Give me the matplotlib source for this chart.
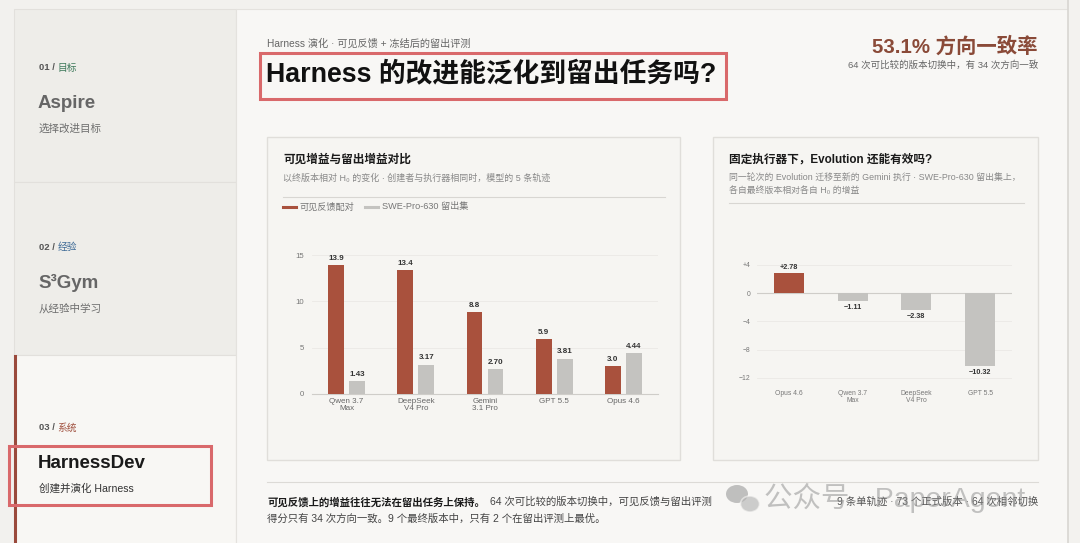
import numpy as np
import matplotlib.pyplot as plt
from matplotlib.patches import Rectangle, Ellipse

plt.rcParams['font.family'] = ['Liberation Sans', 'Noto Sans CJK SC', 'DejaVu Sans']

# data - left chart
models_l = ["Qwen 3.7\nMax", "DeepSeek\nV4 Pro", "Gemini\n3.1 Pro", "GPT 5.5", "Opus 4.6"]
visible_gain = [13.9, 13.4, 8.8, 5.9, 3.0]
heldout_gain = [1.43, 3.17, 2.70, 3.81, 4.44]
visible_lbl = ["13.9", "13.4", "8.8", "5.9", "3.0"]
heldout_lbl = ["1.43", "3.17", "2.70", "3.81", "4.44"]
yticks_l = [0, 5, 10, 15]

# data - right chart
models_r = ["Opus 4.6", "Qwen 3.7\nMax", "DeepSeek\nV4 Pro", "GPT 5.5"]
fixed_gain = [2.78, -1.11, -2.38, -10.32]
fixed_lbl = ["+2.78", "\u22121.11", "\u22122.38", "\u221210.32"]
yticks_r = [4, 0, -4, -8, -12]
yticklbl_r = ["+4", "0", "\u22124", "\u22128", "\u221212"]

RED = "#a9513d"
GRAY = "#c4c3c0"
BROWN = "#8a4a38"

W, H = 1080, 543
fig = plt.figure(figsize=(10.8, 5.43), dpi=100)
fig.patch.set_facecolor("#f2f1ee")

bg = fig.add_axes([0, 0, 1, 1])
bg.set_xlim(0, W)
bg.set_ylim(H, 0)
bg.axis("off")


def rect(x0, y0, x1, y1, fc="none", ec="none", lw=1, z=0):
    bg.add_patch(Rectangle((x0, y0), x1 - x0, y1 - y0, facecolor=fc, edgecolor=ec, lw=lw, zorder=z))


def px_axes(x0, y0, x1, y1):
    return fig.add_axes([x0 / W, 1 - y1 / H, (x1 - x0) / W, (y1 - y0) / H])


# sidebar
rect(14, 9, 236, 182, fc="#eeede9", ec="#e2e0dc", lw=0.8)
rect(14, 182, 236, 355, fc="#eeede9", ec="#e2e0dc", lw=0.8)
rect(14, 355, 236, 560, fc="#f8f7f4", ec="#e2e0dc", lw=0.8)
bg.plot([15, 15], [356, 543], color="#9a4a3c", lw=2.2, zorder=3)

# main area
rect(236, 9, 1068, 560, fc="#f8f7f5", ec="#e4e2de", lw=0.8)
rect(1068, 0, 1080, 543, fc="#f3f2ef")
bg.plot([1068, 1068], [0, 543], color="#d8d6d2", lw=1.2)

steps = [
    ("01 / ", "目标", "#3f7a5c", "Aspire", "选择改进目标", 68, "#666666"),
    ("02 / ", "经验", "#3d6a96", "S\u00b3Gym", "从经验中学习", 247, "#666666"),
    ("03 / ", "系统", "#a0503e", "HarnessDev", "创建并演化 Harness", 428, "#1a1a1a"),
]
fig.canvas.draw()
rend = fig.canvas.get_renderer()
for num, tag, col, name, desc, y, ncol in steps:
    t = bg.text(39, y, num, fontsize=6.8, color="#555555", va="center", fontweight="bold")
    ext = t.get_window_extent(rend)
    bg.text(39 + ext.width, y, tag, fontsize=7, color=col, va="center")
    bg.text(38, y + 36, name, fontsize=13.5, color=ncol, va="center", fontweight="bold")
    bg.text(39, y + 61, desc, fontsize=7.6, color="#6e6e6e" if ncol != "#1a1a1a" else "#333333",
            va="center")

# header
bg.text(267, 44, "Harness 演化 · 可见反馈 + 冻结后的留出评测", fontsize=7.3, color="#666666", va="center")
bg.text(266, 75, "Harness 的改进能泛化到留出任务吗?", fontsize=19.3, color="#111111",
        va="center", fontweight="bold")
bg.text(1038, 46, "53.1% 方向一致率", fontsize=14.7, color=BROWN, va="center", ha="right", fontweight="bold")
bg.text(1038, 65, "64 次可比较的版本切换中，有 34 次方向一致", fontsize=6.8, color="#666666",
        va="center", ha="right")

# cards
rect(267, 137, 680, 460, fc="#f6f5f2", ec="#e0deda", lw=1)
rect(713, 137, 1038, 460, fc="#f6f5f2", ec="#e0deda", lw=1)

bg.text(283, 160, "可见增益与留出增益对比", fontsize=8.4, color="#1a1a1a", va="center", fontweight="bold")
bg.text(283, 178, "以终版本相对 H\u2080 的变化 · 创建者与执行器相同时，模型的 5 条轨迹",
        fontsize=6.5, color="#888888", va="center")
bg.plot([283, 665], [197, 197], color="#d8d6d2", lw=0.8)
bg.plot([283, 296], [207, 207], color=RED, lw=2.2)
bg.text(300, 207, "可见反馈配对", fontsize=6.6, color="#777777", va="center")
bg.plot([365, 378], [207, 207], color=GRAY, lw=2.2)
bg.text(382, 207, "SWE-Pro-630 留出集", fontsize=6.6, color="#777777", va="center")

bg.text(729, 160, "固定执行器下，Evolution 还能有效吗?", fontsize=8.4, color="#1a1a1a", va="center",
        fontweight="bold")
bg.text(729, 177, "同一轮次的 Evolution 迁移至新的 Gemini 执行 · SWE-Pro-630 留出集上，",
        fontsize=6.4, color="#888888", va="center")
bg.text(729, 190, "各自最终版本相对各自 H\u2080 的增益", fontsize=6.4, color="#888888", va="center")
bg.plot([729, 1024], [203, 203], color="#d8d6d2", lw=0.8)

# left chart
ax1 = px_axes(312, 250, 658, 394)
ax1.set_facecolor("none")
x = np.arange(len(models_l))
bw = 0.23
ax1.bar(x - 0.152, visible_gain, bw, color=RED, zorder=3)
ax1.bar(x + 0.152, heldout_gain, bw, color=GRAY, zorder=3)
for i in range(len(x)):
    ax1.text(x[i] - 0.152, visible_gain[i] + 0.35, visible_lbl[i], ha="center", va="bottom",
             fontsize=5.8, fontweight="bold", color="#333333")
    ax1.text(x[i] + 0.152, heldout_gain[i] + 0.35, heldout_lbl[i], ha="center", va="bottom",
             fontsize=5.8, fontweight="bold", color="#333333")
ax1.set_xlim(-0.5, len(x) - 0.5)
ax1.set_ylim(0, 15 * 144 / 139)
ax1.set_yticks(yticks_l)
ax1.set_xticks(x)
ax1.set_xticklabels(models_l, fontsize=5.8, color="#666666", linespacing=1.05)
ax1.tick_params(axis="y", labelsize=5.6, labelcolor="#777777", length=0, pad=6)
ax1.tick_params(axis="x", length=0, pad=3)
ax1.grid(axis="y", color="#ebe9e5", lw=0.6, zorder=0)
for s in ["top", "right", "left"]:
    ax1.spines[s].set_visible(False)
ax1.spines["bottom"].set_color("#cfcdc9")
ax1.spines["bottom"].set_linewidth(0.8)

# right chart
ax2 = px_axes(757, 262, 1012, 380)
ax2.set_facecolor("none")
xr = np.arange(len(models_r))
cols = [RED if v > 0 else GRAY for v in fixed_gain]
ax2.bar(xr, fixed_gain, 0.47, color=cols, zorder=3)
for i in range(len(xr)):
    v = fixed_gain[i]
    if v > 0:
        ax2.text(xr[i], v + 0.3, fixed_lbl[i], ha="center", va="bottom", fontsize=5.2,
                 fontweight="bold", color="#333333")
    else:
        ax2.text(xr[i], v - 0.4, fixed_lbl[i], ha="center", va="top", fontsize=5.2,
                 fontweight="bold", color="#333333")
ax2.axhline(0, color="#cfcdc9", lw=0.8, zorder=2)
ax2.set_xlim(-0.5, len(xr) - 0.5)
ax2.set_ylim(-12.3, 4.4)
ax2.set_yticks(yticks_r)
ax2.set_yticklabels(yticklbl_r)
ax2.set_xticks(xr)
ax2.set_xticklabels(models_r, fontsize=4.9, color="#777777", linespacing=1.05)
ax2.tick_params(axis="y", labelsize=4.9, labelcolor="#777777", length=0, pad=5)
ax2.tick_params(axis="x", length=0, pad=7)
ax2.grid(axis="y", color="#ebe9e5", lw=0.6, zorder=0)
for s in ["top", "right", "left", "bottom"]:
    ax2.spines[s].set_visible(False)

# footer
bg.plot([267, 1038], [482, 482], color="#dcdad6", lw=0.8)
fig.canvas.draw()
t = bg.text(267, 502, "可见反馈上的增益往往无法在留出任务上保持。", fontsize=7.5, color="#1a1a1a",
            va="center", fontweight="bold")
ext = t.get_window_extent(rend)
bg.text(267 + ext.width + 5, 502, "64 次可比较的版本切换中，可见反馈与留出评测", fontsize=7.5,
        color="#444444", va="center")
bg.text(267, 519, "得分只有 34 次方向一致。9 个最终版本中，只有 2 个在留出评测上最优。", fontsize=7.5,
        color="#444444", va="center")
bg.text(1038, 502, "9 条单轨迹 · 73 个正式版本 · 64 次相邻切换", fontsize=7.5, color="#555555",
        va="center", ha="right")

# watermark
bg.add_patch(Ellipse((737, 494), 22, 18, facecolor="#9a9a9a", alpha=0.6, zorder=5))
bg.add_patch(Ellipse((750, 504), 19, 16, facecolor="#b0b0b0", alpha=0.6, zorder=5,
                     edgecolor="#f8f7f5", lw=1.2))
bg.text(764, 498, "公众号 · PaperAgent", fontsize=20.5, color="#8a8a8a", alpha=0.5,
        va="center", zorder=6)

# red annotation boxes
rect(260, 53, 726, 99, ec="#d9696b", lw=2.2, z=7)
rect(9, 446, 211, 505, ec="#d9696b", lw=2.2, z=7)

fig.savefig("out.png", dpi=100, facecolor=fig.get_facecolor())
